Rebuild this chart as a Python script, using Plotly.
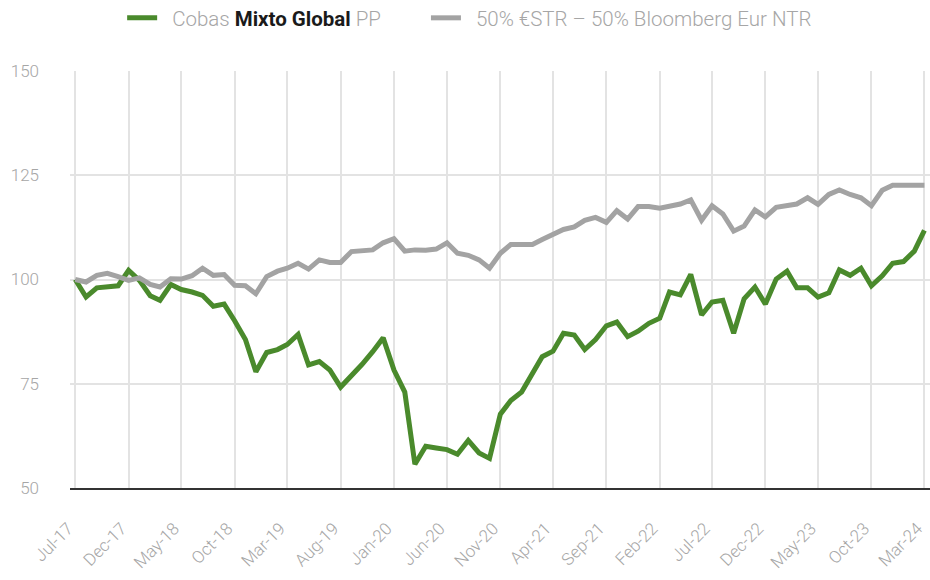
import pandas as pd
import plotly.graph_objects as go

months = pd.date_range("2017-07-01", "2024-03-01", freq="MS")

cobas = [100, 95.8, 98.0, 98.3, 98.5, 102.2, 99.8, 96.1, 95.0, 98.8,
         97.6, 97.0, 96.2, 93.6, 94.1, 90.1, 85.6, 77.9, 82.5, 83.2,
         84.4, 86.8, 79.5, 80.3, 78.3, 74.2, 76.9, 79.6, 82.7, 86.0,
         78.3, 73.0, 55.7, 60.0, 59.6, 59.2, 58.1, 61.4, 58.4, 57.1,
         67.7, 71.0, 73.0, 77.5, 81.5, 82.8, 87.1, 86.7, 83.2, 85.6,
         88.9, 89.8, 86.3, 87.6, 89.5, 90.7, 97.0, 96.3, 101.2, 91.5,
         94.6, 95.0, 87.1, 95.4, 98.2, 94.1, 100.1, 102.0, 98.0, 98.0,
         95.8, 96.8, 102.3, 101.0, 102.7, 98.5, 100.9, 103.9, 104.3, 106.8,
         111.8]

benchmark = [100, 99.4, 101.0, 101.5, 100.7, 99.8, 100.4, 98.8, 98.2, 100.2,
             100.1, 100.9, 102.7, 101.0, 101.2, 98.6, 98.5, 96.6, 100.7, 102.0,
             102.7, 103.9, 102.5, 104.7, 104.1, 104.1, 106.7, 106.8, 107.1, 108.8,
             109.8, 106.8, 107.1, 107.0, 107.3, 108.8, 106.3, 105.8, 104.7, 102.7,
             106.3, 108.4, 108.4, 108.4, 109.6, 110.8, 112.0, 112.6, 114.2, 114.9,
             113.7, 116.5, 114.5, 117.5, 117.5, 117.1, 117.5, 118.1, 119.1, 114.2,
             117.7, 115.7, 111.6, 112.8, 116.7, 115.0, 117.3, 117.7, 118.1, 119.6,
             118.0, 120.4, 121.5, 120.4, 119.6, 117.7, 121.4, 122.6, 122.6, 122.6,
             122.6]

tick_labels = ["Jul-17", "Dec-17", "May-18", "Oct-18", "Mar-19", "Aug-19",
               "Jan-20", "Jun-20", "Nov-20", "Apr-21", "Sep-21", "Feb-22",
               "Jul-22", "Dec-22", "May-23", "Oct-23", "Mar-24"]
tick_dates = list(months[::5])

y_ticks = [50, 75, 100, 125, 150]

name_cobas = "  Cobas <span style='color:#1a1a1a'><b>Mixto Global</b></span> PP        "
name_bench = "  50% €STR – 50% Bloomberg Eur NTR"

GREEN = "#4A8A2C"
GREY = "#A3A3A3"
FONT = "Roboto"

fig = go.Figure()
fig.add_trace(go.Scatter(x=months, y=cobas, mode="lines", name=name_cobas,
                         line=dict(color=GREEN, width=5)))
fig.add_trace(go.Scatter(x=months, y=benchmark, mode="lines", name=name_bench,
                         line=dict(color=GREY, width=5)))

fig.update_layout(
    width=930, height=580,
    margin=dict(l=70, r=0, t=71, b=92),
    paper_bgcolor="white", plot_bgcolor="white",
    font=dict(family=FONT, color="#A6A6A6", size=17, weight=300),
    showlegend=True,
    hovermode=False,
    legend=dict(orientation="h", xref="container", x=0.505, xanchor="center",
                yref="container", y=1 - 18 / 580, yanchor="middle",
                font=dict(size=20.5, color="#A6A6A6", weight=300),
                tracegroupgap=0, itemsizing="constant"),
    xaxis=dict(range=[pd.Timestamp("2017-06-16"), pd.Timestamp("2024-03-17")],
               tickvals=tick_dates, ticktext=tick_labels, tickangle=-45,
               showgrid=True, gridcolor="#E3E3E3", gridwidth=2,
               showline=True, linecolor="#333333", linewidth=2,
               ticks="", zeroline=False, ticklabelstandoff=22,
               ticklabelshift=-7,
               ticklabeloverflow="allow", automargin=False),
    yaxis=dict(range=[50, 150], tickvals=y_ticks,
               showgrid=True, gridcolor="#E3E3E3", gridwidth=2,
               showline=False, zeroline=False, ticks="",
               ticklabelstandoff=30, automargin=False),
)

fig.write_html("out.html",
               config={"displayModeBar": False, "staticPlot": True},
               post_script="document.body.style.margin='0';"
                           "document.documentElement.style.overflow='hidden';")
